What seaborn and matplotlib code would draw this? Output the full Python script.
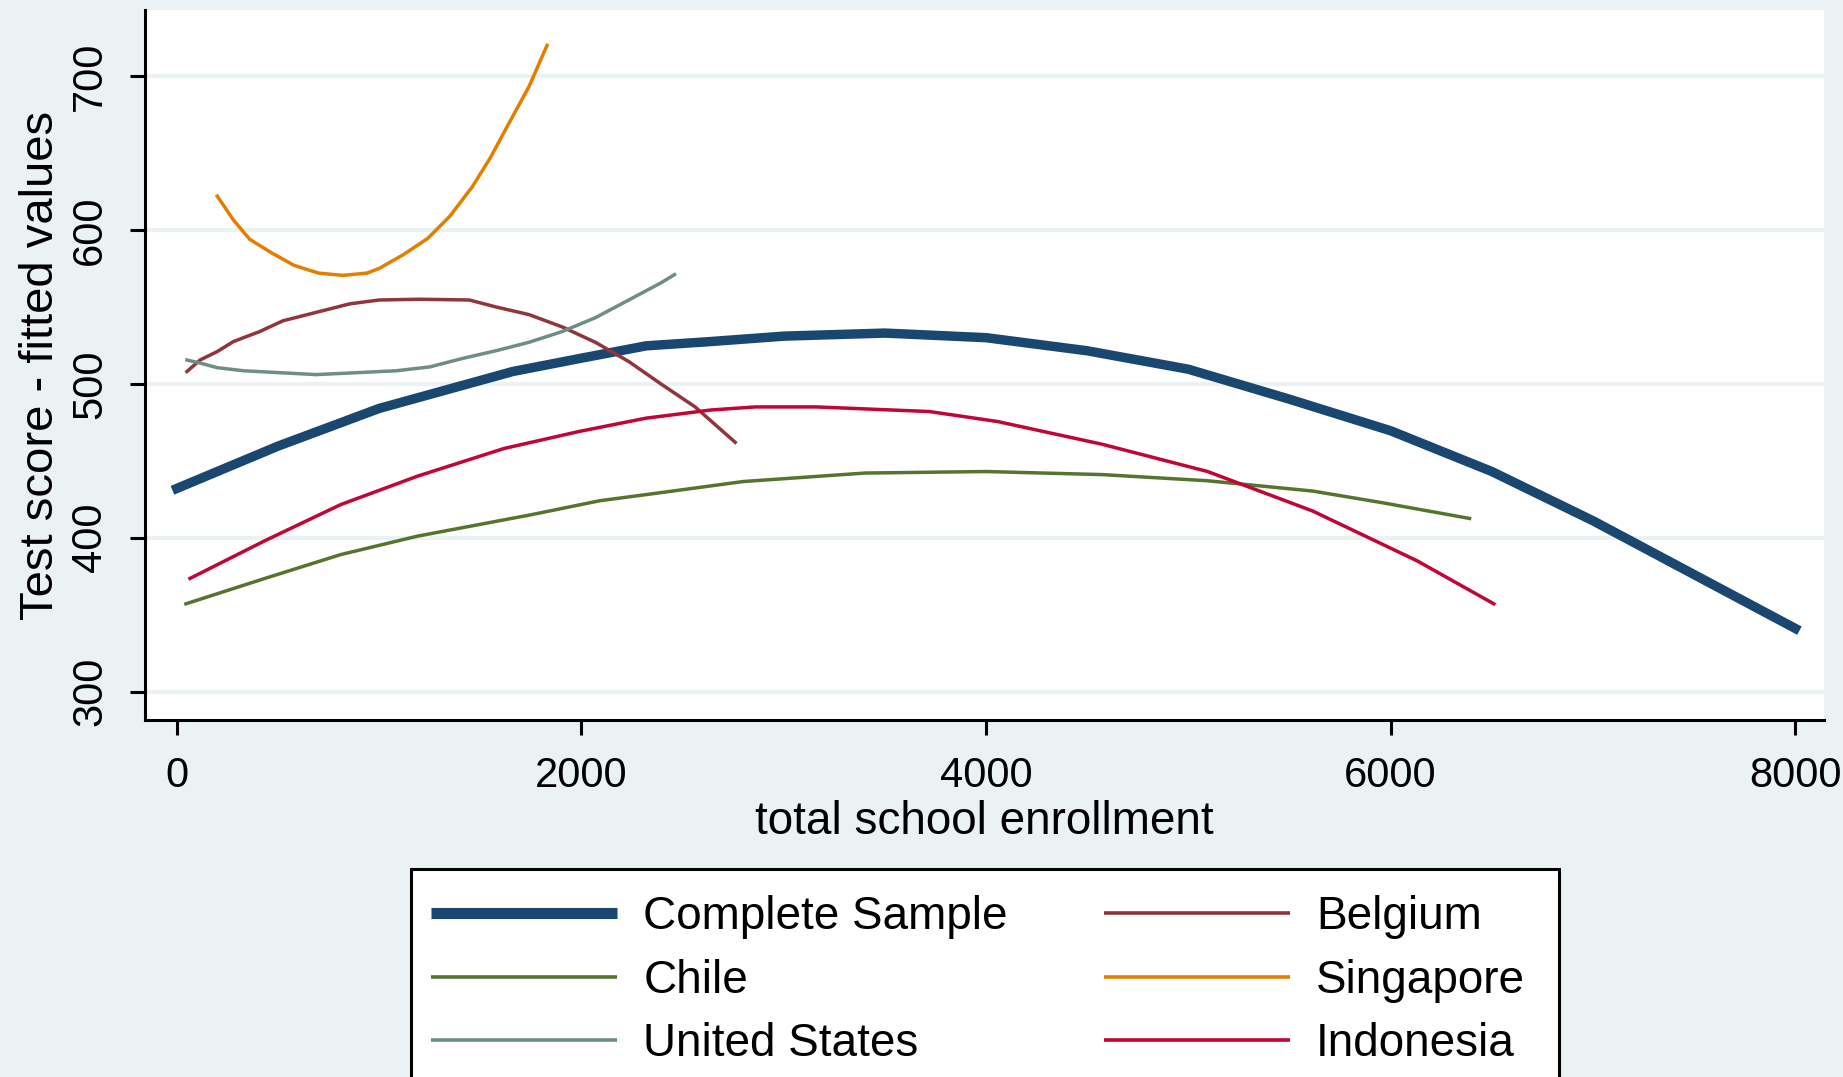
import seaborn as sns
import matplotlib.pyplot as plt
import pandas as pd
from matplotlib.lines import Line2D
from matplotlib.patches import Rectangle

# quadratic fits (enrollment, fitted score)
complete_x = [0, 500, 1000, 1330, 1660, 2000, 2320, 2640, 3000, 3500, 4000, 4500, 5000, 5500, 6000, 6500, 7000, 7500, 8000]
complete_y = [432, 459.5, 484, 496, 508, 516.7, 524.7, 527.5, 531, 533, 530, 521.5, 509.5, 490, 469.5, 443, 411, 376, 341]

belgium_x = [50, 115, 200, 280, 410, 525, 690, 855, 1000, 1200, 1446, 1577, 1741, 1905, 2069, 2234, 2398, 2562, 2760]
belgium_y = [508, 515.5, 521, 527.5, 534, 541, 546.5, 552, 554.5, 555, 554.5, 550, 545, 537, 527, 514.5, 499.5, 485, 462]

chile_x = [45, 435, 810, 1190, 1755, 2090, 2320, 2800, 3400, 4000, 4575, 5095, 5615, 5960, 6390]
chile_y = [357, 373.5, 389, 401, 415, 424, 428, 436.5, 442, 443, 441, 437, 430.3, 422.7, 412.5]

singapore_x = [200, 280, 360, 470, 580, 700, 820, 940, 1000, 1120, 1240, 1350, 1460, 1550, 1640, 1740, 1830]
singapore_y = [622, 606.5, 594, 585, 577, 572, 570.5, 572, 575, 584, 594.5, 609, 628, 647, 669, 693, 720]

us_x = [50, 115, 200, 330, 690, 1085, 1250, 1412, 1577, 1741, 1905, 2069, 2234, 2398, 2460]
us_y = [515.5, 513.5, 510.5, 508.5, 506, 508.5, 511, 516.5, 521.5, 527, 534, 543, 554.5, 566, 571]

indonesia_x = [65, 435, 810, 1190, 1618, 1987, 2320, 2640, 2860, 3160, 3720, 4057, 4575, 5095, 5615, 6130, 6510]
indonesia_y = [373.5, 398, 421.5, 440, 458, 469, 477.7, 483, 485, 485, 482, 475.5, 460.7, 443, 417.3, 385, 357]

x_ticks = [0, 2000, 4000, 6000, 8000]
y_ticks = [300, 400, 500, 600, 700]

bg = '#EAF2F3'
series = [
    ('Complete Sample', complete_x, complete_y, '#1A476F', 6.8),
    ('Belgium', belgium_x, belgium_y, '#90353B', 2.5),
    ('Chile', chile_x, chile_y, '#55752F', 2.5),
    ('Singapore', singapore_x, singapore_y, '#E37E00', 2.5),
    ('United States', us_x, us_y, '#6E8E84', 2.5),
    ('Indonesia', indonesia_x, indonesia_y, '#C10534', 2.5),
]

plt.rcParams['font.family'] = ['Liberation Sans', 'DejaVu Sans']

fig = plt.figure(figsize=(18.43, 10.77), dpi=100, facecolor=bg)
ax = fig.add_axes([0.0787, 0.3315, 0.911, 0.6592])
ax.set_facecolor('white')

for name, xs, ys, col, lw in series:
    df = pd.DataFrame({'x': xs, 'y': ys})
    sns.lineplot(data=df, x='x', y='y', color=col, linewidth=lw, sort=False,
                 estimator=None, ax=ax)

ax.set_xlim(-157, 8142)
ax.set_ylim(281.5, 743)
ax.set_xticks(x_ticks)
ax.set_yticks(y_ticks)
ax.set_xticklabels([str(v) for v in x_ticks], fontsize=30)
ax.set_yticklabels([str(v) for v in y_ticks], fontsize=30)
ax.yaxis.grid(True, color=bg, linewidth=3)
ax.xaxis.grid(False)
ax.set_axisbelow(True)

for s in ['top', 'right']:
    ax.spines[s].set_visible(False)
for s in ['left', 'bottom']:
    ax.spines[s].set_linewidth(2.2)
    ax.spines[s].set_color('black')

ax.tick_params(direction='out', length=11, width=2.2, colors='black')
ax.tick_params(axis='x', pad=15)
ax.tick_params(axis='y', pad=14, labelrotation=90)
for lab in ax.get_yticklabels():
    lab.set_va('center')

ax.set_xlabel('total school enrollment', fontsize=33, labelpad=3)
ax.set_ylabel('Test score - fitted values', fontsize=34, labelpad=5)

# legend box runs off the bottom edge, as in the original
fig.add_artist(Rectangle((411 / 1843, -0.05), 1148 / 1843, (1077 - 869) / 1077 + 0.05,
                         transform=fig.transFigure, facecolor='white',
                         edgecolor='black', linewidth=2.2, zorder=1))

# legend: two columns, column-first order
order = [0, 2, 4, 1, 3, 5]
handles = []
labels = []
for i in order:
    name, _, _, col, lw = series[i]
    handles.append(Line2D([], [], color=col, linewidth=8 if i == 0 else 2.6,
                          solid_capstyle='butt'))
    labels.append(name)

leg = fig.legend(handles, labels, ncol=2, loc='upper left',
                 bbox_to_anchor=(431 / 1843, 1 - 895 / 1077),
                 borderaxespad=0, borderpad=0, fontsize=33, frameon=False,
                 handlelength=4.06, handletextpad=0.57,
                 labelspacing=0.43, columnspacing=2.1)
leg.set_zorder(5)

fig.savefig('out.png', dpi=100, facecolor=bg)
